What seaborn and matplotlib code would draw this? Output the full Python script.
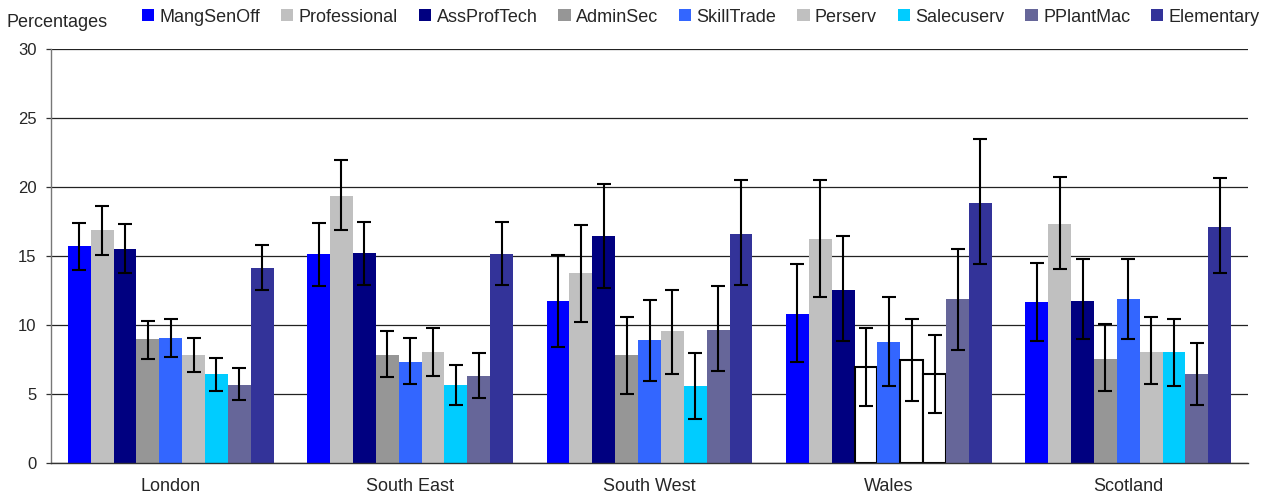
import matplotlib
matplotlib.use("Agg")
import matplotlib.pyplot as plt
from matplotlib.patches import Patch
import numpy as np
import pandas as pd
import seaborn as sns

# 数据：各地区、各职业类别的百分比及误差范围
regions = ["London", "South East", "South West", "Wales", "Scotland"]
occupations = ["MangSenOff", "Professional", "AssProfTech", "AdminSec", "SkillTrade",
               "Perserv", "Salecuserv", "PPlantMac", "Elementary"]

london = [15.75, 16.9, 15.5, 8.95, 9.08, 7.85, 6.47, 5.67, 14.15]
south_east = [15.17, 19.37, 15.24, 7.85, 7.34, 8.07, 5.67, 6.33, 15.17]
south_west = [11.76, 13.8, 16.47, 7.85, 8.94, 9.59, 5.6, 9.66, 16.61]
wales = [10.82, 16.25, 12.56, 6.98, 8.79, 7.49, 6.45, 11.9, 18.86]
scotland = [11.69, 17.34, 11.76, 7.56, 11.9, 8.07, 8.07, 6.47, 17.12]

london_hi = [17.4, 18.6, 17.3, 10.3, 10.45, 9.08, 7.58, 6.86, 15.77]
south_east_hi = [17.39, 21.98, 17.5, 9.56, 9.08, 9.8, 7.07, 7.94, 17.5]
south_west_hi = [15.07, 17.27, 20.24, 10.55, 11.81, 12.56, 7.94, 12.8, 20.48]
wales_hi = [14.4, 20.48, 16.42, 9.8, 12.05, 10.43, 9.3, 15.53, 23.48]
scotland_hi = [14.51, 20.75, 14.78, 10.05, 14.78, 10.55, 10.43, 8.69, 20.62]

london_lo = [14.0, 15.1, 13.8, 7.55, 7.7, 6.57, 5.19, 4.59, 12.53]
south_east_lo = [12.8, 16.9, 12.92, 6.2, 5.7, 6.33, 4.22, 4.71, 12.92]
south_west_lo = [8.43, 10.19, 12.65, 4.97, 5.96, 6.45, 3.21, 6.69, 12.92]
wales_lo = [7.32, 12.03, 8.81, 4.1, 5.58, 4.46, 3.6, 8.21, 14.4]
scotland_lo = [8.81, 14.03, 8.96, 5.22, 8.96, 5.7, 5.6, 4.22, 13.8]

# Wales 中样本量较小的类别（空心柱）
hollow = [("Wales", "AdminSec"), ("Wales", "Perserv"), ("Wales", "Salecuserv")]

colors = ["#0000FF", "#C0C0C0", "#000080", "#969696", "#3366FF",
          "#C0C0C0", "#00CCFF", "#666699", "#333399"]

values = [london, south_east, south_west, wales, scotland]
highs = [london_hi, south_east_hi, south_west_hi, wales_hi, scotland_hi]
lows = [london_lo, south_east_lo, south_west_lo, wales_lo, scotland_lo]

rows = []
for r, region in enumerate(regions):
    for o, occ in enumerate(occupations):
        rows.append({"region": region, "occ": occ, "value": values[r][o],
                     "hi": highs[r][o], "lo": lows[r][o]})
df = pd.DataFrame(rows)

sns.set_style("white")
plt.rcParams["font.family"] = ["Liberation Sans", "DejaVu Sans"]

fig = plt.figure(figsize=(12.72, 4.99), dpi=100)
ax = fig.add_axes([51 / 1272, 1 - 463 / 499, (1248 - 51) / 1272, (463 - 49) / 499])

sns.barplot(data=df, x="region", y="value", hue="occ", order=regions,
            hue_order=occupations, palette=colors, saturation=1, width=0.86,
            errorbar=None, legend=False, ax=ax, zorder=2, linewidth=0)

# 误差线 + 空心柱
bar_containers = list(ax.containers)
for o, container in enumerate(bar_containers):
    occ = occupations[o]
    for r, bar in enumerate(container):
        region = regions[r]
        row = df[(df.region == region) & (df.occ == occ)].iloc[0]
        cx = bar.get_x() + bar.get_width() / 2
        if (region, occ) in hollow:
            bar.set_facecolor("white")
            bar.set_edgecolor("black")
            bar.set_linewidth(1.5)
        ax.errorbar(cx, row.value, yerr=[[row.value - row.lo], [row.hi - row.value]],
                    fmt="none", ecolor="black", elinewidth=1.5, capsize=4.7, capthick=1.5,
                    zorder=3)

ax.set_ylim(0, 30)
ax.set_yticks(range(0, 31, 5))
ax.yaxis.grid(True, color="#222222", linewidth=0.9, zorder=0)
ax.set_axisbelow(True)
ax.set_xlabel("")
ax.set_ylabel("")

# 分类边界刻度
ax.set_xlim(-0.5, len(regions) - 0.5)
ax.set_xticks(np.arange(len(regions)))
ax.set_xticklabels(regions)
ax.set_xticks(np.arange(len(regions) + 1) - 0.5, minor=True)
ax.tick_params(axis="x", which="major", length=0, labelsize=13, pad=11)
ax.tick_params(axis="x", which="minor", length=4, width=0.9, color="#333333", direction="out")
ax.tick_params(axis="y", length=3.5, width=0.9, color="#333333", labelsize=12, pad=7, left=True)

for side in ["top", "right"]:
    ax.spines[side].set_visible(False)
ax.spines["left"].set_color("#777777")
ax.spines["left"].set_linewidth(1.0)
ax.spines["bottom"].set_color("#333333")
ax.spines["bottom"].set_linewidth(1.0)

fig.text(7 / 1272, 1 - 27 / 499, "Percentages", fontsize=13, va="baseline", ha="left")

handles = [Patch(facecolor=c, edgecolor="none", label=l) for c, l in zip(colors, occupations)]
fig.legend(handles=handles, loc="center left", bbox_to_anchor=(142 / 1272, 1 - 17 / 499),
           ncol=9, frameon=False, fontsize=13, handlelength=0.68, handleheight=0.68,
           handletextpad=0.3, columnspacing=1.15, borderaxespad=0, borderpad=0)

fig.savefig("out.png", dpi=100)
